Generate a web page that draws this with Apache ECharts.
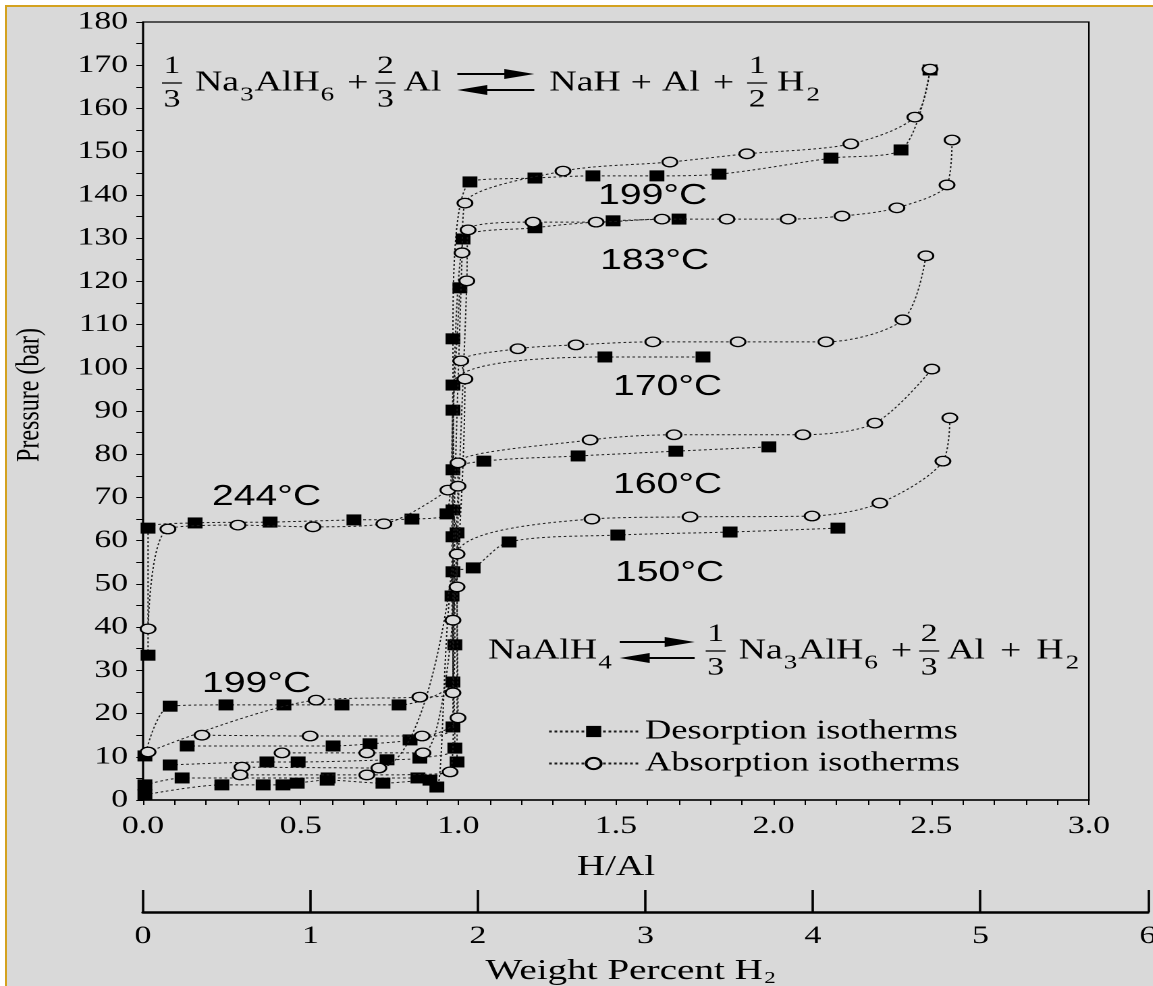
<!DOCTYPE html>
<html>
<head>
<meta charset="utf-8">
<title>NaAlH4 pressure–composition isotherms</title>
<script src="https://cdn.jsdelivr.net/npm/echarts@6/dist/echarts.min.js"></script>
<style>
  html, body { margin: 0; padding: 0; background: #fff; width: 1153px; height: 986px; overflow: hidden; }
  #panel { position: absolute; left: 5px; top: 5px; width: 1148px; height: 981px; background: #d9d9d9;
           border-left: 2px solid #d4a21f; border-top: 2px solid #d4a21f; box-sizing: border-box; }
  /* the figure is drawn on a narrower canvas and widened as a whole */
  #chart { position: absolute; left: 0; top: 0; width: 854px; height: 986px;
           transform: scaleX(1.35); transform-origin: 0 0; }
</style>
</head>
<body>
<div id="panel"></div>
<div id="chart"></div>
<script>
// Isotherms as [H/Al, pressure in bar]; squares = desorption, circles = absorption
const des244 = [[0.016, 33.5], [0.016, 62.9], [0.165, 64.1], [0.403, 64.3], [0.669, 64.8], [0.853, 65.0], [0.964, 66.2], [0.983, 90.2], [1.005, 118.5]];
const abs244 = [[0.016, 39.6], [0.079, 62.7], [0.301, 63.6], [0.539, 63.2], [0.764, 63.9], [0.967, 71.7]];

const des199 = [[0.006, 10.2], [0.086, 21.7], [0.263, 22.0], [0.447, 22.0], [0.631, 22.0], [0.812, 22.0], [0.983, 27.3], [0.989, 35.9], [0.983, 106.7],
                [1.037, 143.0], [1.243, 143.9], [1.427, 144.4], [1.630, 144.4], [1.827, 144.8], [2.182, 148.5], [2.404, 150.4], [2.496, 168.9]];
const abs199 = [[0.016, 11.1], [0.549, 23.1], [0.878, 23.8], [0.983, 24.8], [0.983, 41.6], [1.012, 126.6], [1.021, 138.1],
                [1.332, 145.5], [1.671, 147.6], [1.915, 149.5], [2.245, 151.8], [2.448, 158.0], [2.496, 169.1]];

const des183 = [[0.140, 12.5], [0.603, 12.5], [0.720, 13.0], [0.847, 13.9], [0.983, 16.9], [0.983, 60.9],
                [1.015, 129.8], [1.243, 132.4], [1.491, 134.0], [1.700, 134.4]];
const abs183 = [[0.187, 15.0], [0.530, 14.8], [0.885, 14.8], [0.999, 19.0], [0.996, 49.3], [1.027, 120.1], [1.031, 131.9],
                [1.237, 133.7], [1.437, 133.7], [1.646, 134.4], [1.852, 134.4], [2.046, 134.4], [2.217, 135.1], [2.391, 137.0], [2.550, 142.3], [2.566, 152.7]];

const des170 = [[0.086, 8.1], [0.393, 8.8], [0.492, 8.8], [0.774, 9.3], [0.878, 9.7], [0.989, 12.0], [0.980, 47.2], [0.983, 96.0],
                [1.465, 102.5], [1.776, 102.5]];
const abs170 = [[0.441, 10.9], [0.710, 10.9], [0.888, 10.9], [1.021, 97.4], [1.008, 101.6],
                [1.189, 104.4], [1.373, 105.3], [1.617, 106.0], [1.887, 106.0], [2.166, 106.0], [2.410, 111.1], [2.483, 125.9]];

const des160 = [[0.006, 3.5], [0.124, 5.1], [0.587, 5.1], [0.872, 5.1], [0.996, 8.8], [0.996, 61.8], [0.983, 67.1], [0.983, 76.4],
                [1.081, 78.4], [1.380, 79.6], [1.690, 80.7], [1.985, 81.7]];
const abs160 = [[0.314, 7.6], [0.748, 7.4], [0.999, 72.6], [0.999, 78.0],
                [1.418, 83.3], [1.684, 84.5], [2.093, 84.5], [2.321, 87.2], [2.502, 99.7]];

const des150 = [[0.006, 1.2], [0.250, 3.5], [0.381, 3.5], [0.444, 3.5], [0.489, 3.9], [0.584, 4.6], [0.761, 3.9], [0.910, 4.6], [0.932, 3.0],
                [0.983, 52.8], [1.047, 53.7], [1.161, 59.7], [1.506, 61.3], [1.862, 62.0], [2.204, 62.9]];
const abs150 = [[0.308, 5.8], [0.710, 5.8], [0.974, 6.5], [0.996, 56.9],
                [1.424, 65.0], [1.735, 65.5], [2.122, 65.7], [2.337, 68.7], [2.537, 78.4], [2.559, 88.4]];

const desorption = [des244, des199, des183, des170, des160, des150];
const absorption = [abs244, abs199, abs183, abs170, abs160, abs150];

const legendNames = ['Desorption isotherms', 'Absorption isotherms'];
const tempLabels = ['199°C', '183°C', '170°C', '160°C', '150°C', '244°C', '199°C'];

// ---- drawing ----
const SX = 1.35;                 // horizontal widening applied to the canvas
const px = x => x / SX;          // page x -> canvas x
const SERIF = '"Liberation Serif", "Times New Roman", serif';
const SANS = '"Liberation Sans", Arial, sans-serif';
const BG = '#d9d9d9';

const measureCtx = document.createElement('canvas').getContext('2d');
function textWidth(s, size, family) {
  measureCtx.font = size + 'px ' + family;
  return measureCtx.measureText(s).width;
}

function text(s, x, cy, size, family, align) {
  return {
    type: 'text', x: x, y: cy, silent: true,
    style: { text: s, font: size + 'px ' + family, fill: '#000',
             textAlign: align || 'left', textVerticalAlign: 'middle', align: align || 'left', verticalAlign: 'middle' }
  };
}

// Equation typesetting: tokens laid out left to right, gaps given in page pixels
const MAIN = 28, SUB = 20, FRAC = 25;
function typeset(startX, cy, tokens) {
  const els = [];
  let x = px(startX);
  tokens.forEach(tk => {
    x += px(tk.gap || 0);
    if (tk.w !== undefined) {                       // plain word
      els.push(text(tk.w, x, cy, MAIN, SERIF));
      x += textWidth(tk.w, MAIN, SERIF);
    } else if (tk.sub !== undefined) {              // subscript
      els.push(text(tk.sub, x, cy + 12, SUB, SERIF));
      x += textWidth(tk.sub, SUB, SERIF);
    } else if (tk.op !== undefined) {               // operator such as +
      els.push(text(tk.op, x, cy + 1, MAIN, SERIF));
      x += textWidth(tk.op, MAIN, SERIF);
    } else if (tk.frac) {                           // stacked fraction
      const w = px(20), c = x + w / 2;
      els.push(text(tk.frac[0], c, cy - 16.5, FRAC, SERIF, 'center'));
      els.push(text(tk.frac[1], c, cy + 17, FRAC, SERIF, 'center'));
      els.push({ type: 'line', silent: true, shape: { x1: x, y1: cy, x2: x + w, y2: cy }, style: { stroke: '#000', lineWidth: 1.3 } });
      x += w;
    } else if (tk.arrows) {                         // equilibrium arrows
      const l = x, r = x + px(tk.arrows), yT = cy - 9, yB = cy + 7, hw = px(30);
      const ln = (a, b, y) => ({ type: 'line', silent: true, shape: { x1: a, y1: y, x2: b, y2: y }, style: { stroke: '#000', lineWidth: 2 } });
      const head = pts => ({ type: 'polygon', silent: true, shape: { points: pts }, style: { fill: '#000' } });
      els.push(ln(l, r - hw * 0.7, yT), head([[r - hw, yT - 5], [r, yT], [r - hw, yT + 5]]));
      els.push(ln(l + hw * 0.7, r, yB), head([[l + hw, yB - 5], [l, yB], [l + hw, yB + 5]]));
      x = r;
    }
  });
  return els;
}

const hexahydride = [
  { frac: ['1', '3'] }, { w: 'Na', gap: 13 }, { sub: '3', gap: 1 }, { w: 'AlH', gap: 1 }, { sub: '6', gap: 1 },
  { op: '+', gap: 13 }, { frac: ['2', '3'], gap: 7 }, { w: 'Al', gap: 8 }
];
// 1/3 Na3AlH6 + 2/3 Al  <=>  NaH + Al + 1/2 H2
const eq1 = typeset(162, 83, hexahydride.concat([
  { arrows: 77, gap: 16 }, { w: 'NaH', gap: 15 }, { op: '+', gap: 10 }, { w: 'Al', gap: 10 }, { op: '+', gap: 13 },
  { frac: ['1', '2'], gap: 13 }, { w: 'H', gap: 10 }, { sub: '2', gap: 2 }
]));
// NaAlH4  <=>  1/3 Na3AlH6 + 2/3 Al + H2
const eq2 = typeset(488, 651, [
  { w: 'NaAlH' }, { sub: '4', gap: 1 }, { arrows: 75, gap: 8 }, Object.assign({ gap: 11 }, hexahydride[0])
].concat(hexahydride.slice(1), [
  { op: '+', gap: 15 }, { w: 'H', gap: 15 }, { sub: '2', gap: 2 }
]));

const tempSpots = [[598, 196], [600, 261], [613, 387], [613, 485], [615, 573], [212, 497], [202, 684]];
const temps = tempLabels.map((s, i) => text(s, px(tempSpots[i][0]), tempSpots[i][1], 29, SANS));

const yTitle = {
  type: 'text', x: px(30), y: 395, rotation: Math.PI / 2, silent: true,
  style: { text: 'Pressure (bar)', font: '24px ' + SERIF, fill: '#000',
           textAlign: 'center', textVerticalAlign: 'middle', align: 'center', verticalAlign: 'middle' }
};

const lineStyle = { color: '#1a1a1a', width: 1, type: [2, 2] };
const series = [];
desorption.forEach((d, i) => series.push({
  type: 'line', name: legendNames[0], id: 'des' + i, data: d, smooth: 0.3,
  symbol: 'rect', symbolSize: 11, itemStyle: { color: '#000' }, lineStyle, z: 3
}));
absorption.forEach((d, i) => series.push({
  type: 'line', name: legendNames[1], id: 'abs' + i, data: d, smooth: 0.3,
  symbol: 'circle', symbolSize: [11, 9.5], itemStyle: { color: BG, borderColor: '#000', borderWidth: 1.4 }, lineStyle, z: 4
}));

const axisText = { fontFamily: SERIF, fontSize: 25, color: '#000' };
const black = { color: '#000', width: 1 };

const chart = echarts.init(document.getElementById('chart'), null, { renderer: 'canvas', devicePixelRatio: 2 });
chart.setOption({
  backgroundColor: 'transparent',
  animation: false,
  grid: [
    { left: px(143), right: px(1153 - 1089), top: 22, bottom: 186, outerBoundsMode: 'none',
      show: true, borderColor: '#000', borderWidth: 1.2, backgroundColor: 'transparent' },
    { left: px(143), right: px(1153 - 1148), top: 890, height: 22, outerBoundsMode: 'none' }
  ],
  xAxis: [
    {
      type: 'value', gridIndex: 0, min: 0, max: 3, interval: 0.5,
      axisLine: { onZero: false, lineStyle: { color: '#000', width: 1.5 } },
      axisTick: { inside: false, length: 5, lineStyle: black },
      minorTick: { show: true, splitNumber: 5, length: 5, lineStyle: black },
      splitLine: { show: false },
      axisLabel: Object.assign({ margin: 14, formatter: v => v.toFixed(1) }, axisText),
      name: 'H/Al', nameLocation: 'middle', nameGap: 53,
      nameTextStyle: { fontFamily: SERIF, fontSize: 29, color: '#000' }
    },
    {
      type: 'value', gridIndex: 1, min: 0, max: 6, interval: 1,
      axisLine: { onZero: false, lineStyle: { color: '#000', width: 2.5 } },
      axisTick: { inside: true, length: 22, lineStyle: { color: '#000', width: 1.8 } },
      splitLine: { show: false },
      axisLabel: Object.assign({ margin: 12 }, axisText),
      name: 'Weight Percent H{s|2}', nameLocation: 'middle', nameGap: 44,
      nameTextStyle: {
        fontFamily: SERIF, fontSize: 29, color: '#000', padding: [0, 22, 0, 0],
        rich: { s: { fontFamily: SERIF, fontSize: 17, color: '#000', padding: [14, 0, 0, 1] } }
      }
    }
  ],
  yAxis: [
    {
      type: 'value', gridIndex: 0, min: 0, max: 180, interval: 10,
      axisLine: { show: true, onZero: false, lineStyle: { color: '#000', width: 1.5 } },
      axisTick: { inside: false, length: 5, lineStyle: black },
      minorTick: { show: true, splitNumber: 2, length: 5, lineStyle: black },
      splitLine: { show: false },
      axisLabel: Object.assign({ margin: 11 }, axisText)
    },
    { type: 'value', gridIndex: 1, min: 0, max: 1, show: false }
  ],
  legend: {
    data: legendNames, orient: 'vertical', left: px(541), top: 713,
    itemWidth: 66, itemHeight: 14, itemGap: 5, selectedMode: false,
    textStyle: { fontFamily: SERIF, fontSize: 27, color: '#000' }
  },
  series,
  graphic: { elements: [].concat(eq1, eq2, temps, [yTitle]) }
});
</script>
</body>
</html>
